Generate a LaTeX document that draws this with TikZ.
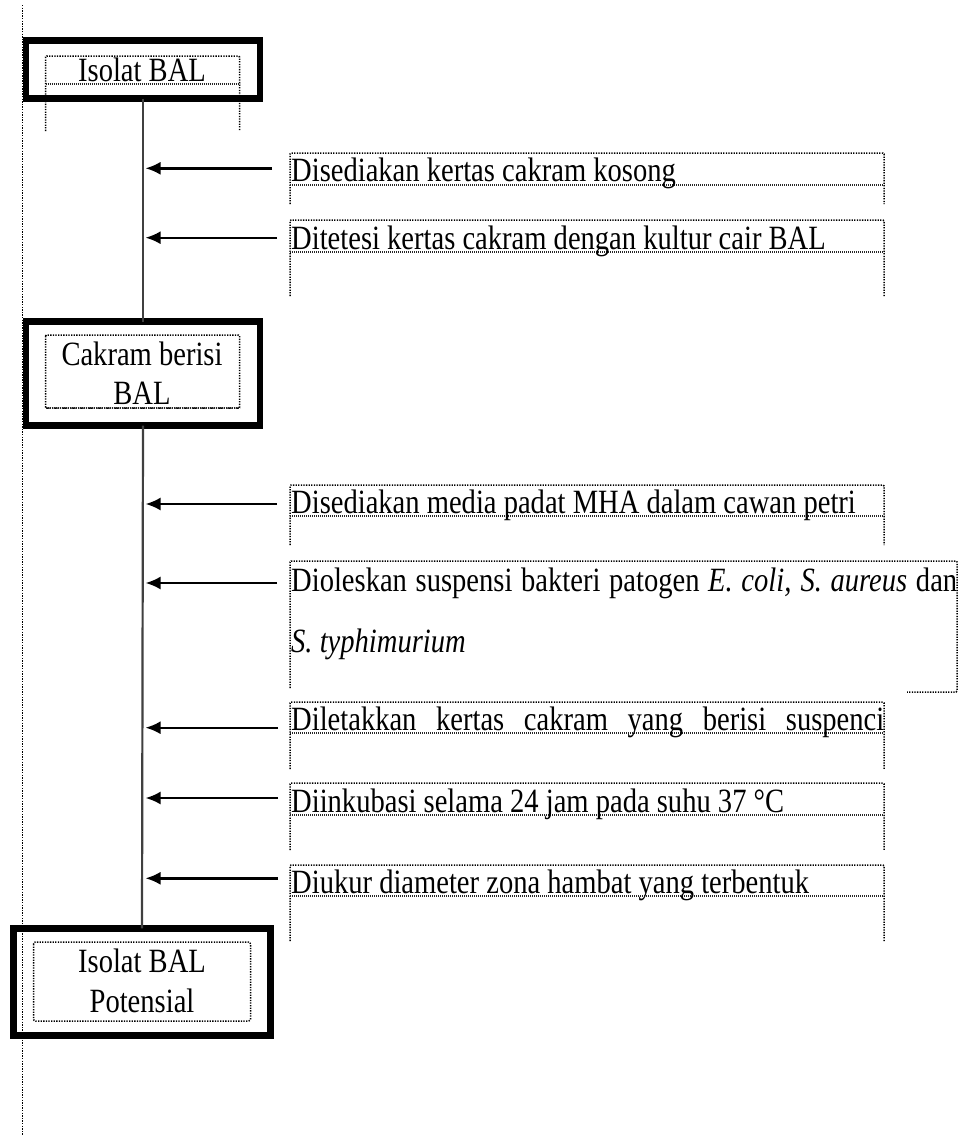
\documentclass[tikz,border=0pt]{standalone}
\usepackage{fontspec}
\setmainfont{Liberation Serif}[FakeStretch=0.84]
\usetikzlibrary{arrows.meta}
\begin{document}
\begin{tikzpicture}[x=1pt,y=-1pt,
  dotline/.style={line width=1.5pt,dash pattern=on 1.3pt off 1.3pt,black},
  ulline/.style={line width=2pt,dash pattern=on 1.1pt off 0.9pt,black!85},
  thickbox/.style={draw,line width=6.6pt,inner sep=0pt,outer sep=0pt},
  mainline/.style={line width=2.2pt,black!75},
  conn/.style={line width=2.4pt,-{Latex[length=15pt,width=13pt]}},
  txt/.style={inner sep=0pt,anchor=base west,font=\fontsize{34}{39}\selectfont},
  ctxt/.style={inner sep=0pt,anchor=base,font=\fontsize{34}{39}\selectfont}]
\useasboundingbox (0,0) rectangle (959,1135);
\fill[white] (0,0) rectangle (959,1135);

% left dotted margin line
\coordinate (m1) at (22.5,5);
\coordinate (m2) at (22.5,1135);
\draw[dotline] (m1) -- (m2);

% boxes
\node[thickbox,minimum width=234pt,minimum height=58pt] (b1) at (143,69.5) {};
\node[thickbox,minimum width=234pt,minimum height=104pt] (b2) at (143,373.5) {};
\node[thickbox,minimum width=257.4pt,minimum height=107.4pt] (b3) at (142,982) {};

% inner dotted frames
\draw[dotline,rounded corners=1pt] (45.5,131) -- (45.5,56) -- (239.5,56) -- (239.5,131);
\draw[ulline] (45.5,83.5) -- (239.5,83.5);
\draw[dotline,rounded corners=1pt] (45.5,335) rectangle (239.5,408);
\draw[ulline] (45.5,408) -- (239.5,408);
\draw[dotline,rounded corners=2pt] (33.5,942) rectangle (250.5,1021);

% box texts
\node[ctxt] (b1t) at (142,81.5) {Isolat BAL};
\node[ctxt] (b2t1) at (142,365) {Cakram berisi};
\node[ctxt] (b2t2) at (142,404) {BAL};
\node[ctxt] (b3t1) at (142,972) {Isolat BAL};
\node[ctxt] (b3t2) at (142,1012) {Potensial};

% main vertical line
\draw[mainline] (b1.south) -- (b2.north);
\draw[mainline] (b2.south) -- (b3.north);

% text frames
\foreach \top/\ul/\bot in {153/184.5/204, 220/252/296, 485/516/545, 702/733/769, 783/814.5/850, 865/896/941}{
  \draw[dotline,rounded corners=1pt] (290,\bot) -- (290,\top) -- (884,\top) -- (884,\bot);
  \draw[ulline] (290,\ul) -- (884,\ul);
}
\draw[dotline,rounded corners=1pt] (290,688) -- (290,561) -- (957,561) -- (957,692) -- (907,692);

% step texts
\node[txt] (t1) at (291,181.5) {Disediakan kertas cakram kosong};
\node[txt] (t2) at (291,249.5) {Ditetesi kertas cakram dengan kultur cair BAL};
\node[txt] (t3) at (291,513.5) {Disediakan media padat MHA dalam cawan petri};
\node[txt] (t4) at (291,591) {\makebox[666pt][s]{Dioleskan suspensi bakteri patogen \textit{E. coli, S. aureus} dan}};
\node[txt] (t4b) at (291,652) {\textit{S. typhimurium}};
\node[txt] (t5) at (291,730.5) {\makebox[593pt][s]{Diletakkan kertas cakram yang berisi suspenci}};
\node[txt] (t6) at (291,812) {Diinkubasi selama 24 jam pada suhu 37 °C};
\node[txt] (t7) at (291,893.5) {Diukur diameter zona hambat yang terbentuk};

% arrows
\foreach \i/\y/\s in {1/168.3/272, 2/237.7/277, 3/504/277, 4/583/277, 5/727.7/278, 6/798/278, 7/878.3/278}{
  \coordinate (s\i) at (\s,\y);
  \coordinate (e\i) at (145.5,\y);
  \draw[conn] (s\i) -- (e\i);
}
\end{tikzpicture}
\end{document}
